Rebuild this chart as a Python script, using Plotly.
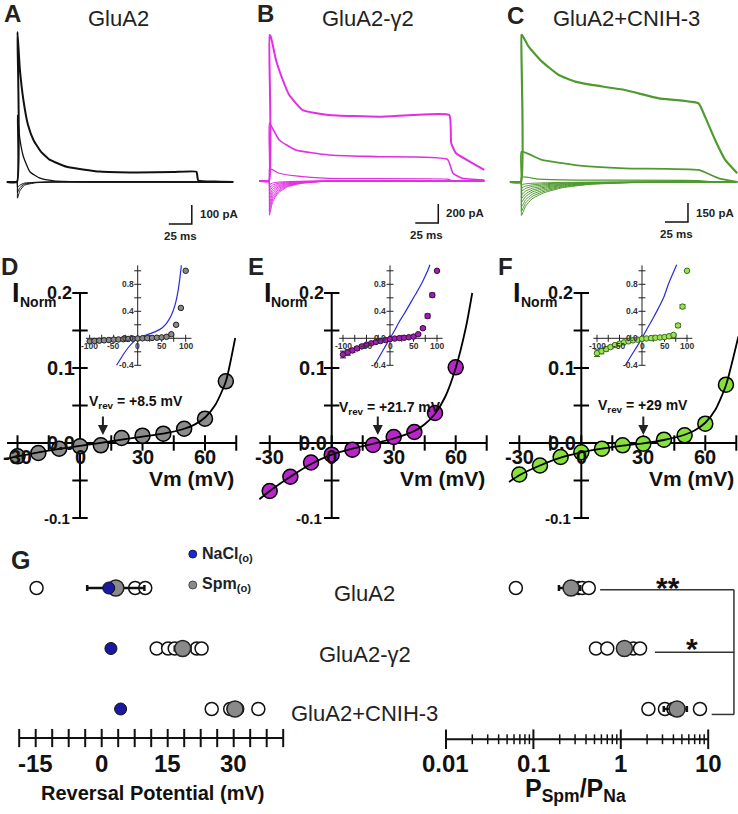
import math
import plotly.graph_objects as go

W, H = 738, 814
FONT = "Arial, Liberation Sans, sans-serif"

# ---------------- A-C : whole-cell currents (ms, pA) ----------------
a_top_t = [-11, 0, 0.5, 3, 7, 12, 18, 26, 36, 54, 90, 130, 170, 195, 197, 215, 235]
a_top_i = [0, 0, 790, 600, 430, 300, 220, 160, 116, 80, 55, 50, 52, 54, 8, 2, 0]
a_mid_t = [-11, 0, 0.5, 3, 7, 14, 25, 40, 80, 235]
a_mid_i = [0, 0, 352, 230, 133, 54, 20, 6, 0, 0]
a_neg_peaks = [-85, -55, -30]

b_top_t = [-10.5, 0, 0.5, 2, 7.6, 15, 22, 36.6, 65, 120, 156, 196, 198, 203, 221, 234]
b_top_i = [0, 0, 1537, 1519, 1274, 1063, 905, 747, 695, 677, 695, 695, 400, 295, 189, 116]
b_mid_t = [-10.5, 0, 0.5, 11, 29, 65, 120, 194, 200, 210, 234]
b_mid_i = [0, 0, 607, 432, 326, 274, 256, 228, 81, 28, 10]
b_low_t = [-10.5, 0, 0.5, 11, 29, 65, 194, 200, 234]
b_low_i = [0, 0, 133, 81, 53, 28, 20, 0, 0]
b_neg_peaks = [-35, -70, -105, -145, -185, -225, -270, -315, -360]

c_top_t = [-12, 0, 0.5, 1.1, 8.3, 22.8, 41, 59, 77, 113, 150, 193, 200, 211, 222, 235]
c_top_i = [0, 0, 1160, 1160, 1068, 950, 845, 792, 766, 726, 660, 621, 516, 332, 174, 69]
c_mid_t = [-12, 0, 0.5, 22.8, 59, 113, 193, 215, 235]
c_mid_i = [0, 0, 239, 174, 134, 108, 95, 29, 0]
c_low_t = [-12, 0, 0.5, 20, 60, 193, 210, 235]
c_low_i = [0, 0, 40, 22, 15, 12, 0, 0]
c_neg_peaks = [-20, -45, -70, -100, -130, -160, -195, -230, -265]

# shapes of the inward (negative) currents, read from the fans
a_neg_t = [-11, 0, 0.5, 3, 8, 20, 40, 235]
a_neg_shape = [0, 0, 1, 0.55, 0.2, 0.05, 0, 0]
b_neg_t = [-10.5, 0, 0.5, 4, 10, 20, 35, 55, 80, 234]
b_neg_shape = [0, 0, 1, 0.6, 0.35, 0.17, 0.07, 0.02, 0, 0]
c_neg_t = [-12, 0, 0.5, 5, 12, 25, 45, 75, 120, 235]
c_neg_shape = [0, 0, 1, 0.72, 0.5, 0.32, 0.17, 0.07, 0.02, 0]

bar_ms = 25
bar_pa = [100, 200, 150]
bar_t = [190, 184, 181.5]
bar_i = [-221, -442, -316]

# ---------------- D-F : normalised I-V ----------------
d_v = [-30, -20, -10, 0, 10, 20, 30, 40, 50, 60, 70]
d_i = [-0.0178, -0.0133, -0.0076, -0.0044, -0.0031, 0.0067, 0.0098, 0.0124, 0.019, 0.0324, 0.0822]
e_v = [-30, -20, -10, 0, 10, 20, 30, 40, 50, 60]
e_i = [-0.064, -0.045, -0.026, -0.0156, -0.0089, -0.0027, 0.008, 0.0147, 0.04, 0.1009]
f_v = [-30, -20, -10, 0, 10, 20, 30, 40, 50, 60, 70]
f_i = [-0.042, -0.030, -0.0187, -0.0124, -0.0076, -0.0031, -0.0009, 0.0044, 0.0102, 0.0258, 0.0778]

d_fit_v = [-35, -30, -20, -10, 0, 10, 20, 30, 40, 50, 55, 60, 65, 70, 74.5]
d_fit_i = [-0.021, -0.0178, -0.0125, -0.0078, -0.0038, 0.0002, 0.0045, 0.0085, 0.0125, 0.019, 0.0245, 0.034, 0.051, 0.082, 0.14]
e_fit_v = [-35, -30, -20, -10, 0, 10, 20, 30, 40, 45, 50, 55, 60, 65, 68]
e_fit_i = [-0.075, -0.064, -0.045, -0.028, -0.0155, -0.0075, -0.001, 0.006, 0.016, 0.025, 0.039, 0.062, 0.1, 0.155, 0.2]
f_fit_v = [-35, -30, -20, -10, 0, 10, 20, 30, 40, 50, 55, 60, 65, 70, 76]
f_fit_i = [-0.052, -0.043, -0.030, -0.0195, -0.0125, -0.0075, -0.0035, -0.0005, 0.004, 0.011, 0.017, 0.027, 0.045, 0.077, 0.142]

vrev_text = ["+8.5", "+21.7", "+29"]
vrev_arrow = [11, 22.3, 30]

iv_xticks = [-30, -15, 0, 15, 30, 45, 60, 75]
iv_yticks = [-0.1, -0.05, 0, 0.05, 0.1, 0.15, 0.2]
iv_xlabels = [-30, 0, 30, 60]
iv_ylabels = [0.1, 0.0]

# insets: full voltage range
in_v = [-100, -90, -80, -70, -60, -50, -40, -30, -20, -10, 0, 10, 20, 30, 40, 50, 60, 70, 80, 90, 100]
in_d = [-0.045, -0.04, -0.035, -0.03, -0.025, -0.02, -0.017, -0.013, -0.01, -0.006, -0.003, 0.0,
        0.003, 0.006, 0.009, 0.013, 0.022, 0.06, 0.2, 0.45, 1.0]
in_e = [-0.24, -0.21, -0.18, -0.15, -0.12, -0.095, -0.075, -0.055, -0.04, -0.025, -0.012, -0.004,
        0.003, 0.008, 0.015, 0.025, 0.06, 0.15, 0.33, 0.64, 1.0]
in_e_err = [0.05, 0.04, 0.03, 0.025, 0.02, 0.015, 0.01, 0.01, 0.008, 0.006, 0.005, 0.004,
            0.004, 0.004, 0.005, 0.006, 0.01, 0.02, 0.03, 0.03, 0.0]
in_f = [-0.22, -0.19, -0.16, -0.13, -0.1, -0.08, -0.06, -0.045, -0.03, -0.02, -0.008, -0.002,
        0.003, 0.008, 0.012, 0.018, 0.03, 0.05, 0.19, 0.47, 1.0]
in_f_err = [0.05, 0.04, 0.03, 0.025, 0.02, 0.015, 0.01, 0.01, 0.008, 0.006, 0.005, 0.004,
            0.004, 0.004, 0.005, 0.006, 0.008, 0.015, 0.025, 0.03, 0.0]
na_d_v = [-44, -30, -20, -10, 0, 10, 20, 30, 40, 50, 60, 70, 78, 84, 88, 91]
na_d_i = [-0.4, -0.24, -0.14, -0.06, 0, 0.03, 0.055, 0.08, 0.11, 0.15, 0.22, 0.34, 0.5, 0.7, 0.9, 1.08]
na_e_v = [-33, -20, -10, 0, 10, 20, 30, 40, 50, 60, 70, 80, 85]
na_e_i = [-0.4, -0.24, -0.12, 0, 0.12, 0.25, 0.36, 0.48, 0.6, 0.72, 0.85, 1.0, 1.09]
na_f_v = [-37, -25, -12, 0, 12, 24, 36, 48, 58, 68, 77]
na_f_i = [-0.4, -0.27, -0.13, 0, 0.15, 0.29, 0.44, 0.6, 0.79, 0.95, 1.09]

in_xticks = [-100, -75, -50, -25, 0, 25, 50, 75, 100]
in_yticks = [-0.4, -0.2, 0, 0.2, 0.4, 0.6, 0.8, 1.0]
in_xlabels = [-100, -50, 0, 50, 100]
in_ylabels = [0.8, 0.4, 0.0, -0.4]

# ---------------- G : reversal potential / permeability ----------------
g_rows = ["GluA2", "GluA2-γ2", "GluA2+CNIH-3"]
g_row_y = [0, -1, -2]
erev_cells = [[-14.8, 3.5, 7.6, 9.9], [12.5, 15.1, 16.6, 21.6, 22.7], [25.0, 29.2, 30.0, 30.8, 35.6]]
erev_spm = [3.2, 18.4, 30.3]
erev_spm_sem = [6.5, 1.8, 1.5]
erev_na = [1.6, 2.1, 4.3]
erev_na_sem = [0.6, 0.6, 0.5]
perm_cells = [[0.063, 0.27, 0.33, 0.36, 0.43], [0.52, 0.70, 1.1, 1.39, 1.66], [2.07, 3.2, 4.0, 8.05]]
perm_mean = [0.27, 1.1, 4.4]
perm_sem = [0.074, 0.15, 1.3]
erev_ticklabels = [-15, 0, 15, 30]
perm_ticklabels = [0.01, 0.1, 1, 10]
bracket_start = [0.58, 2.46, 10.96]
bracket_end = 19.7

fig = go.Figure()


def xa(n):
    return "x" if n == 1 else f"x{n}"


def ya(n):
    return "y" if n == 1 else f"y{n}"


def set_axes(n, px_x, px_y, x_org, x_scale, y_org, y_scale, xlog=False):
    # pixel box, pixel of value 0 and px per unit on each axis
    (x0, x1), (y0, y1) = px_x, px_y
    k = "" if n == 1 else str(n)
    fig.update_layout(**{
        f"xaxis{k}": dict(domain=[x0 / W, x1 / W], range=[(x0 - x_org) / x_scale, (x1 - x_org) / x_scale],
                          type="log" if xlog else "linear", visible=False, anchor=ya(n), fixedrange=True),
        f"yaxis{k}": dict(domain=[1 - y1 / H, 1 - y0 / H], range=[(y_org - y1) / y_scale, (y_org - y0) / y_scale],
                          visible=False, anchor=xa(n), fixedrange=True),
    })


def lines(n, x, y, color="black", width=1.5, shape="linear", smooth=0.6):
    fig.add_trace(go.Scatter(x=x, y=y, mode="lines", line=dict(color=color, width=width, shape=shape, smoothing=smooth),
                             xaxis=xa(n), yaxis=ya(n), hoverinfo="skip", cliponaxis=False, showlegend=False))


def dots(n, x, y, fill, size, edge="black", edge_w=1.5, symbol="circle", err=None, horiz=False, err_color="black", err_w=1.5):
    e = None
    if err is not None:
        e = dict(type="data", array=err, color=err_color, thickness=err_w, width=3)
    fig.add_trace(go.Scatter(x=x, y=y, mode="markers",
                             marker=dict(symbol=symbol, size=size, color=fill, line=dict(color=edge, width=edge_w)),
                             error_x=e if horiz else None, error_y=None if horiz else e,
                             xaxis=xa(n), yaxis=ya(n), hoverinfo="skip", cliponaxis=False, showlegend=False))


def ticks(n, x, y, vertical, size, width=1.5, color="black"):
    fig.add_trace(go.Scatter(x=x, y=y, mode="markers",
                             marker=dict(symbol="line-ns-open" if vertical else "line-ew-open", size=size,
                                         color=color, line=dict(color=color, width=width)),
                             xaxis=xa(n), yaxis=ya(n), hoverinfo="skip", cliponaxis=False, showlegend=False))


def label(n, x, y, s, size, xanchor="center", yanchor="middle", xshift=0, yshift=0, bold=True, color="black"):
    fig.add_annotation(x=x, y=y, xref=xa(n), yref=ya(n), text=f"<b>{s}</b>" if bold else s, showarrow=False,
                       font=dict(family=FONT, size=size, color=color), xanchor=xanchor, yanchor=yanchor,
                       xshift=xshift, yshift=yshift, borderpad=0)


def plabel(px, py, s, size, xanchor="center", bold=False, color="#222222"):
    fig.add_annotation(x=px / W, y=1 - py / H, xref="paper", yref="paper", text=f"<b>{s}</b>" if bold else s,
                       showarrow=False, font=dict(family=FONT, size=size, color=color),
                       xanchor=xanchor, yanchor="middle")


# ---------- A-C ----------
trace_cols = ["#111111", "#e22ee6", "#4f9a2f"]
set_axes(1, (0, 246), (20, 250), 17, 0.92, 182, 0.19)
set_axes(2, (246, 492), (20, 250), 269, 0.92, 181, 0.095)
set_axes(3, (492, 738), (20, 250), 521, 0.92, 182, 0.1267)

for p in a_neg_peaks:
    lines(1, a_neg_t, [p * s for s in a_neg_shape], trace_cols[0], 1, "spline", 0.4)
lines(1, a_mid_t, a_mid_i, trace_cols[0], 1.3, "spline", 0.4)
lines(1, a_top_t, a_top_i, trace_cols[0], 2, "spline", 0.4)

for p in b_neg_peaks:
    lines(2, b_neg_t, [p * s for s in b_neg_shape], trace_cols[1], 1, "spline", 0.4)
lines(2, b_low_t, b_low_i, trace_cols[1], 1.2, "spline", 0.4)
lines(2, b_mid_t, b_mid_i, trace_cols[1], 1.6, "spline", 0.4)
lines(2, b_top_t, b_top_i, trace_cols[1], 2, "spline", 0.4)

for p in c_neg_peaks:
    lines(3, c_neg_t, [p * s for s in c_neg_shape], trace_cols[2], 1, "spline", 0.4)
lines(3, c_low_t, c_low_i, trace_cols[2], 1.2, "spline", 0.4)
lines(3, c_mid_t, c_mid_i, trace_cols[2], 1.8, "spline", 0.4)
lines(3, c_top_t, c_top_i, trace_cols[2], 2.2, "spline", 0.4)

for k, n in enumerate([1, 2, 3]):
    lines(n, [bar_t[k] - bar_ms, bar_t[k], bar_t[k]], [bar_i[k], bar_i[k], bar_i[k] + bar_pa[k]], "#111111", 1.5)
    label(n, bar_t[k], bar_i[k] + bar_pa[k] / 2, f"{bar_pa[k]} pA", 11.5, xanchor="left", xshift=7, color="#222")
    label(n, bar_t[k] - bar_ms / 2, bar_i[k], f"{bar_ms} ms", 11.5, yshift=-12, color="#222")

plabel(12, 14, "A", 24, bold=True)
plabel(119, 19, "GluA2", 22)
plabel(265, 14, "B", 24, bold=True)
plabel(368, 18, "GluA2-γ2", 22)
plabel(515, 15, "C", 24, bold=True)
plabel(626, 18, "GluA2+CNIH-3", 22)

# ---------- D-F ----------
iv_sets = [
    (4, (0, 246), 80, 2.0833, d_v, d_i, d_fit_v, d_fit_i, "#8c8c8c", 8, 41),
    (5, (246, 492), 331.7, 2.0667, e_v, e_i, e_fit_v, e_fit_i, "#b825c8", 6, 35),
    (6, (492, 738), 581.3, 2.0667, f_v, f_i, f_fit_v, f_fit_i, "#86e13c", 16, 37),
]
for k, (n, box, x0, sx, v, i, fv, fi, col, txs, tys) in enumerate(iv_sets):
    set_axes(n, box, (240, 530), x0, sx, 443, 750)
    lines(n, [-35, 75], [0, 0], "black", 2)
    lines(n, [0, 0], [-0.1, 0.2], "black", 2)
    ticks(n, iv_xticks, [0] * len(iv_xticks), True, 11, 2)
    ticks(n, [0] * len(iv_yticks), iv_yticks, False, 11, 2)
    dots(n, v, i, col, 15, "black", 1.5)
    lines(n, fv, fi, "black", 1.8, "spline")
    for t in iv_xlabels:
        label(n, t, 0, str(t), 20, yshift=-14, color="#111")
    for t in iv_ylabels:
        label(n, 0, t, f"{t:.1f}", 20, xanchor="right", xshift=-4, color="#111")
    label(n, 0, 0.2, "0.2", 18, xanchor="right", xshift=-7, color="#111")
    label(n, 0, -0.1, "-0.1", 15, xanchor="right", xshift=-9, color="#111")
    label(n, 0, 0.2, "I", 27, xshift=-64, color="#111")
    label(n, 0, 0.2, "Norm", 14, xshift=-42, yshift=-9, color="#111")
    label(n, 74.5, -0.047, "Vm (mV)", 21, xanchor="right", color="#111")
    label(n, 0, 0, f"V<sub>rev</sub> = {vrev_text[k]} mV", 14, xanchor="left", xshift=txs, yshift=tys, color="#111")
    fig.add_annotation(x=vrev_arrow[k], y=0.0107, xref=xa(n), yref=ya(n), ax=0, ay=-20, text="",
                       showarrow=True, arrowhead=2, arrowsize=1, arrowwidth=2, arrowcolor="#222")

plabel(9, 266, "D", 24, bold=True)
plabel(256, 266, "E", 24, bold=True)
plabel(506, 266, "F", 24, bold=True)

# ---------- insets ----------
in_sets = [
    (7, (84, 200), 137.7, 0.48, in_d, None, "#8a8a8a", "#222222", na_d_v, na_d_i),
    (8, (334, 450), 390, 0.47, in_e, in_e_err, "#a020b4", "#3a0a40", na_e_v, na_e_i),
    (9, (584, 700), 642, 0.45, in_f, in_f_err, "#9be356", "#3c6e1e", na_f_v, na_f_i),
]
for n, box, x0, sx, vals, err, col, edge, bv, bi in in_sets:
    set_axes(n, box, (258, 372), x0, sx, 338.3, 67.5)
    lines(n, [-108, 112], [0, 0], "#222", 1)
    lines(n, [0, 0], [-0.4, 1.08], "#222", 1)
    ticks(n, in_xticks, [0] * len(in_xticks), True, 5, 1, "#222")
    ticks(n, [0] * len(in_yticks), in_yticks, False, 5, 1, "#222")
    lines(n, bv, bi, "#2a2ad8", 1.2, "spline")
    dots(n, in_v, vals, col, 5.5, edge, 1, err=err, err_color=edge, err_w=1)
    for t in in_xlabels:
        label(n, t, 0, str(t), 8.5, yshift=-8, color="#333")
    for t in in_ylabels:
        label(n, 0, t, f"{t:.1f}", 8.5, xanchor="right", xshift=-3, color="#333")

# ---------- G ----------
set_axes(10, (0, 300), (535, 752), 101.7, 4.4, 588, 60.5)
set_axes(11, (400, 738), (535, 752), 620.8, 87.4, 588, 60.5, xlog=True)

lines(10, [-18.75, 41.25], [-2.48, -2.48], "#111", 2)
ticks(10, [-18.75 + 3.75 * k for k in range(17)], [-2.48] * 17, True, 13, 2, "#111")
lines(11, [0.01, 10], [-2.5, -2.5], "#111", 2)
ticks(11, perm_ticklabels, [-2.5] * 4, True, 14, 2, "#111")
minor = [m * 10 ** e for e in (-2, -1, 0) for m in range(2, 10)]
ticks(11, minor, [-2.5] * len(minor), True, 7, 1.5, "#111")

for r, y in enumerate(g_row_y):
    dots(10, erev_cells[r], [y] * len(erev_cells[r]), "white", 13, "#111", 1.5)
    dots(11, perm_cells[r], [y] * len(perm_cells[r]), "white", 13, "#111", 1.5)
dots(10, erev_spm, g_row_y, "#8a8a8a", 16, "#222", 1.5, err=erev_spm_sem, horiz=True, err_color="#111", err_w=2.5)
dots(10, erev_na, g_row_y, "#1a1aa0", 12, "#111", 1, err=erev_na_sem, horiz=True, err_color="#111", err_w=1.5)
dots(11, perm_mean, g_row_y, "#8a8a8a", 16, "#222", 1.5, err=perm_sem, horiz=True, err_color="#111", err_w=2.5)

# legend
dots(10, [20.7], [0.56], "#1a2ad0", 8, "#111", 0.8)
dots(10, [20.7], [0.05], "#8a8a8a", 8, "#333", 0.8)
label(10, 22.5, 0.56, "NaCl<sub>(o)</sub>", 16, xanchor="left", color="#222")
label(10, 22.5, 0.05, "Spm<sub>(o)</sub>", 16, xanchor="left", color="#222")

# significance bracket
for r, y in enumerate(g_row_y):
    lines(11, [bracket_start[r], bracket_end], [y - 0.03 * (r + 1), y - 0.03 * (r + 1)], "#333", 1.5)
lines(11, [bracket_end, bracket_end], [-0.03, -2.09], "#333", 1.5)
label(11, math.log10(3.47), 0.13, "**", 30, yshift=-7, color="#111")
label(11, math.log10(6.47), -0.89, "*", 30, yshift=-7, color="#111")

for t in erev_ticklabels:
    label(10, t, -2.48, str(t), 24, yshift=-25, color="#111")
for t in perm_ticklabels:
    label(11, math.log10(t), -2.5, str(t), 24, yshift=-24, color="#111")

plabel(152, 793, "Reversal Potential (mV)", 20, bold=True, color="#111")
plabel(575, 790, "P<sub>Spm</sub>/P<sub>Na</sub>", 25, bold=True, color="#111")
plabel(364, 593, g_rows[0], 22)
plabel(365, 654, g_rows[1], 22)
plabel(364, 713, g_rows[2], 22)
plabel(20, 560, "G", 25, bold=True)

fig.update_layout(width=W, height=H, margin=dict(l=0, r=0, t=0, b=0), showlegend=False,
                  paper_bgcolor="white", plot_bgcolor="rgba(0,0,0,0)", hovermode=False)

fig.write_html("out.html", config={"displayModeBar": False},
               post_script="document.body.style.margin='0px';")
